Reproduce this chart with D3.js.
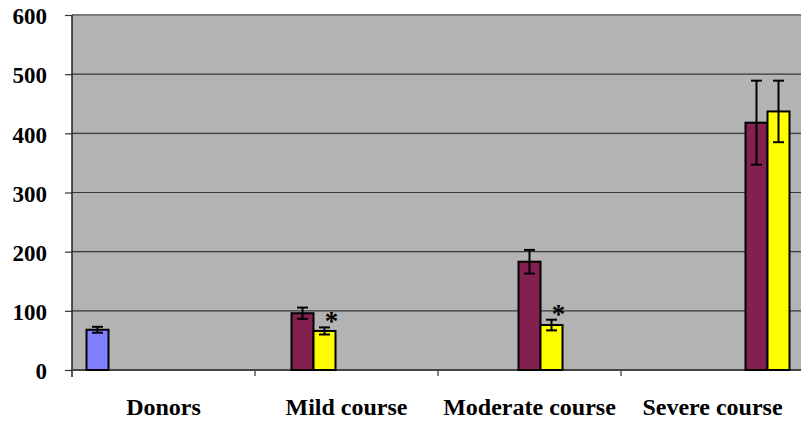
<!DOCTYPE html>
<html>
<head>
<meta charset="utf-8">
<script src="https://cdn.jsdelivr.net/npm/d3@7"></script>
<style>
  body { margin: 0; background: #fff; }
</style>
</head>
<body>
<svg id="chart" width="801" height="423"></svg>
<script>
// chart values
var categories = ["Donors", "Mild course", "Moderate course", "Severe course"];
// one bar per slot, each slot sits in one category
var barCategory = ["Donors", "Mild course", "Mild course", "Moderate course", "Moderate course", "Severe course", "Severe course"];
var barValues = [68, 96, 66, 183, 76, 418, 437];
var barErrors = [5, 9.5, 6, 20, 9, 71, 52];
var barMarks = ["", "", "*", "", "*", "", ""];
var barGroup = ["donor", "patient", "treated", "patient", "treated", "patient", "treated"];
var yTicks = [0, 100, 200, 300, 400, 500, 600];

var colors = { donor: "#8080ff", patient: "#822050", treated: "#ffff00" };
var FONT = "Liberation Serif";

var svg = d3.select("#chart");
var plotL = 72, plotR = 804, plotT = 15, plotB = 370;

var x = d3.scaleBand().domain(categories).range([plotL, plotR]);
var slot = d3.scaleBand().domain(d3.range(barValues.length))
    .range([14.5, 14.5 + 22 * barValues.length]);
var y = d3.scaleLinear().domain([0, 600]).range([plotB, plotT]);

var bars = barValues.map(function(v, i) {
    return { cat: barCategory[i], value: v, err: barErrors[i], mark: barMarks[i], group: barGroup[i], i: i };
});

// plot background
svg.append("rect")
    .attr("x", plotL).attr("y", plotT)
    .attr("width", plotR - plotL).attr("height", plotB - plotT)
    .attr("fill", "#b3b3b3");

// gridlines
svg.selectAll("line.grid")
    .data(yTicks.filter(function(d) { return d > 0; }))
    .enter().append("line")
    .classed("grid", true)
    .attr("x1", plotL).attr("x2", plotR)
    .attr("y1", function(d) { return y(d); })
    .attr("y2", function(d) { return y(d); })
    .attr("stroke", function(d) { return d === 600 ? "#7a7a7a" : "#383838"; })
    .attr("stroke-width", function(d) { return d === 600 ? 2 : 1.2; });

// y axis
var yAxis = d3.axisLeft(y).tickValues(yTicks).tickSize(7).tickPadding(18);
var ya = svg.append("g").attr("transform", "translate(" + plotL + ",0)").call(yAxis);
ya.select(".domain").remove();
ya.selectAll(".tick line").attr("stroke", "#333").attr("stroke-width", 1.2);
ya.selectAll("text")
    .attr("font-family", FONT).attr("font-weight", "bold")
    .attr("font-size", 23).attr("fill", "#000")
    .attr("dy", "0.38em");
svg.append("line")
    .attr("x1", plotL).attr("x2", plotL)
    .attr("y1", plotT).attr("y2", plotB + 7)
    .attr("stroke", "#222").attr("stroke-width", 1.5);

// x axis
var xa = svg.append("g").attr("transform", "translate(0," + plotB + ")")
    .call(d3.axisBottom(x).tickSize(0));
xa.select(".domain").remove();
xa.selectAll("text")
    .attr("font-family", FONT).attr("font-weight", "bold")
    .attr("font-size", 24).attr("fill", "#000")
    .attr("y", 45).attr("dy", 0);
svg.selectAll("line.xtick")
    .data(categories.slice(1))
    .enter().append("line")
    .classed("xtick", true)
    .attr("x1", function(d) { return x(d); })
    .attr("x2", function(d) { return x(d); })
    .attr("y1", plotB).attr("y2", plotB + 6)
    .attr("stroke", "#333").attr("stroke-width", 1.2);
svg.append("line")
    .attr("x1", plotL).attr("x2", plotR)
    .attr("y1", plotB).attr("y2", plotB)
    .attr("stroke", "#444").attr("stroke-width", 2);

// bars
svg.selectAll("rect.bar")
    .data(bars)
    .enter().append("rect")
    .classed("bar", true)
    .attr("x", function(d) { return x(d.cat) + slot(d.i); })
    .attr("y", function(d) { return y(d.value); })
    .attr("width", slot.bandwidth())
    .attr("height", function(d) { return y(0) - y(d.value); })
    .attr("fill", function(d) { return colors[d.group]; })
    .attr("stroke", "#000").attr("stroke-width", 2);

// error bars
var eb = svg.selectAll("g.err").data(bars).enter().append("g").classed("err", true)
    .attr("stroke", "#000").attr("stroke-width", 2);
function cx(d) { return x(d.cat) + slot(d.i) + slot.bandwidth() / 2; }
eb.append("line")
    .attr("x1", cx).attr("x2", cx)
    .attr("y1", function(d) { return y(d.value + d.err); })
    .attr("y2", function(d) { return y(d.value - d.err); });
eb.append("line")
    .attr("x1", function(d) { return cx(d) - 5.5; })
    .attr("x2", function(d) { return cx(d) + 5.5; })
    .attr("y1", function(d) { return y(d.value + d.err); })
    .attr("y2", function(d) { return y(d.value + d.err); });
eb.append("line")
    .attr("x1", function(d) { return cx(d) - 5.5; })
    .attr("x2", function(d) { return cx(d) + 5.5; })
    .attr("y1", function(d) { return y(d.value - d.err); })
    .attr("y2", function(d) { return y(d.value - d.err); });

// significance marks
svg.selectAll("text.mark")
    .data(bars.filter(function(d) { return d.mark; }))
    .enter().append("text")
    .classed("mark", true)
    .attr("x", function(d) { return cx(d) + 7; })
    .attr("y", function(d) { return y(d.value + d.err) + 3; })
    .attr("text-anchor", "middle")
    .attr("font-family", FONT).attr("font-weight", "bold")
    .attr("font-size", 27)
    .text(function(d) { return d.mark; });
</script>
</body>
</html>
